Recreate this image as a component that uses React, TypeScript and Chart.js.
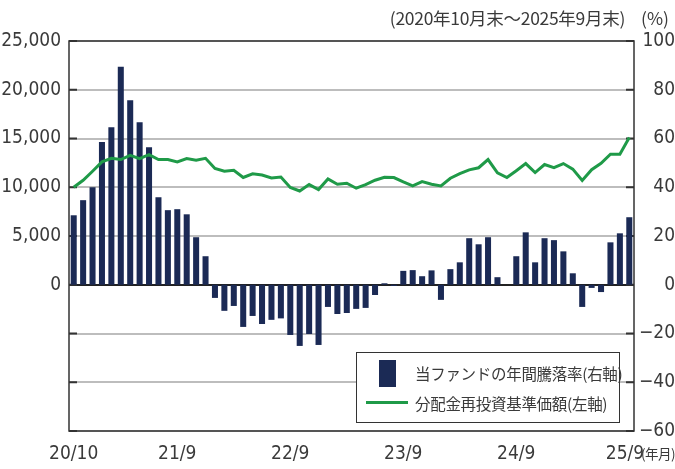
import React, { useEffect, useRef } from 'react';
import { Chart, registerables } from 'chart.js';

Chart.register(...registerables);

// Categories: month-ends from 2020/10 to 2025/9
const START_YEAR = 2020;
const START_MONTH = 10;
const MONTH_COUNT = 60;
const months: string[] = [];
for (let i = 0; i < MONTH_COUNT; i++) {
  const k = START_MONTH - 1 + i;
  const y = START_YEAR + Math.floor(k / 12);
  const m = (k % 12) + 1;
  months.push(`${String(y).slice(2)}/${m}`);
}
const shownXTicks = ['20/10', '21/9', '22/9', '23/9', '24/9', '25/9'];

// 当ファンドの年間騰落率 (%), right axis
const annualReturn = [
  28.5, 34.7, 40.0, 58.6, 64.6, 89.4, 75.7, 66.7, 56.4, 35.9, 30.6, 31.0,
  28.9, 19.5, 11.7, -5.4, -10.7, -8.7, -17.3, -12.8, -16.1, -14.4, -13.8, -20.6,
  -25.1, -20.2, -24.7, -9.1, -12.0, -11.6, -9.9, -9.5, -4.2, 0.6, -0.5, 5.7,
  6.0, 3.5, 5.9, -6.2, 6.4, 9.2, 19.1, 16.6, 19.5, 3.1, 0, 11.7,
  21.5, 9.2, 19.1, 18.3, 13.7, 4.7, -9.1, -1.3, -3.0, 17.4, 21.1, 27.7,
];

// 分配金再投資基準価額 (円), left axis
const navReinvested = [
  10000, 10720, 11640, 12600, 12970, 12840, 13280, 12940, 13350, 12840, 12840, 12600,
  12940, 12770, 12970, 11920, 11640, 11740, 11000, 11380, 11250, 10960, 11040, 9980,
  9620, 10275, 9760, 10850, 10300, 10410, 9900, 10275, 10720, 11025, 10995, 10545,
  10135, 10580, 10308, 10135, 10920, 11400, 11780, 12000, 12840, 11470, 11000, 11700,
  12430, 11505, 12330, 12020, 12430, 11860, 10700, 11800, 12460, 13385, 13385, 15100,
];

// Axis ranges / ticks
const leftMin = -15000;
const leftMax = 25000;
const leftStep = 5000;
const rightMin = -60;
const rightMax = 100;
const rightStep = 20;

const seriesBarLabel = '当ファンドの年間騰落率(右軸)';
const seriesLineLabel = '分配金再投資基準価額(左軸)';
const periodLabel = '(2020年10月末～2025年9月末)';

const BAR_COLOR = '#1b2a55';
const LINE_COLOR = '#1f9a48';
const TEXT_COLOR = '#3a3a3a';
const NUM_FONT = '"Liberation Sans Narrow", "DejaVu Sans Condensed", "Liberation Sans", sans-serif';
const JP_FONT = '"Noto Sans CJK JP", "Noto Sans", sans-serif';

const framePlugin = {
  id: 'frameAndInnerTicks',
  beforeDatasetsDraw(chart: any) {
    const { ctx, chartArea, scales } = chart;
    ctx.save();
    ctx.strokeStyle = '#333';
    ctx.lineWidth = 2;
    ctx.beginPath();
    scales.y.ticks.forEach((t: any) => {
      const y = scales.y.getPixelForValue(t.value);
      ctx.moveTo(chartArea.left, y);
      ctx.lineTo(chartArea.left + 8, y);
    });
    scales.y1.ticks.forEach((t: any) => {
      const y = scales.y1.getPixelForValue(t.value);
      ctx.moveTo(chartArea.right - 8, y);
      ctx.lineTo(chartArea.right, y);
    });
    ctx.stroke();
    ctx.restore();
  },
  afterDatasetsDraw(chart: any) {
    const { ctx, chartArea } = chart;
    ctx.save();
    ctx.strokeStyle = '#333';
    ctx.lineWidth = 1.5;
    ctx.strokeRect(chartArea.left, chartArea.top, chartArea.right - chartArea.left, chartArea.bottom - chartArea.top);
    ctx.restore();
  },
};

export default function App() {
  const canvasRef = useRef<HTMLCanvasElement | null>(null);

  useEffect(() => {
    if (!canvasRef.current) return;
    const chart = new Chart(canvasRef.current, {
      type: 'bar',
      data: {
        labels: months,
        datasets: [
          {
            type: 'line',
            label: seriesLineLabel,
            data: navReinvested,
            yAxisID: 'y',
            borderColor: LINE_COLOR,
            backgroundColor: LINE_COLOR,
            borderWidth: 3,
            pointRadius: 0,
            tension: 0,
            order: 0,
          } as any,
          {
            type: 'bar',
            label: seriesBarLabel,
            data: annualReturn,
            yAxisID: 'y1',
            backgroundColor: BAR_COLOR,
            categoryPercentage: 0.64,
            barPercentage: 1,
            order: 1,
          } as any,
        ],
      },
      options: {
        responsive: false,
        animation: false,
        layout: { padding: { top: 41, left: 0, right: 0, bottom: 0 } },
        plugins: {
          legend: { display: false },
          tooltip: { enabled: false },
        },
        scales: {
          x: {
            offset: true,
            grid: { display: false, drawTicks: false },
            border: { display: false },
            afterFit: (s: any) => { s.height = 38; },
            ticks: {
              autoSkip: false,
              maxRotation: 0,
              minRotation: 0,
              padding: 12,
              color: TEXT_COLOR,
              font: { family: NUM_FONT, size: 19 },
              callback: (_v: any, i: number) => {
                const lab = months[i];
                if (!shownXTicks.includes(lab)) return '';
                // last label leaves room for the trailing unit text
                return i === months.length - 1 ? lab + '\u2002' : lab;
              },
            },
          },
          y: {
            position: 'left',
            min: leftMin,
            max: leftMax,
            afterFit: (s: any) => { s.width = 69; },
            grid: {
              drawTicks: false,
              lineWidth: 2,
              color: (c: any) => (c.tick && c.tick.value === 0 ? '#222' : '#bdbdbd'),
            },
            border: { display: false },
            ticks: {
              stepSize: leftStep,
              padding: 8,
              color: TEXT_COLOR,
              font: { family: NUM_FONT, size: 19 },
              callback: (v: any) => (v < 0 ? '' : Number(v).toLocaleString('en-US')),
            },
          },
          y1: {
            position: 'right',
            min: rightMin,
            max: rightMax,
            afterFit: (s: any) => { s.width = 41; },
            grid: { display: false, drawTicks: false },
            border: { display: false },
            ticks: {
              stepSize: rightStep,
              padding: 8,
              crossAlign: 'far',
              color: TEXT_COLOR,
              font: { family: NUM_FONT, size: 19 },
              callback: (v: any) => (v < 0 ? '\u2212' + Math.abs(v) : String(v)),
            },
          },
        },
      },
      plugins: [framePlugin],
    });
    return () => chart.destroy();
  }, []);

  const jpText: React.CSSProperties = {
    position: 'absolute',
    fontFamily: JP_FONT,
    color: TEXT_COLOR,
    whiteSpace: 'nowrap',
    lineHeight: '20px',
  };

  return (
    <div style={{ position: 'fixed', left: 0, top: 0, width: 675, height: 469, background: '#fff', overflow: 'hidden' }}>
      <canvas ref={canvasRef} width={675} height={469} style={{ position: 'absolute', left: 0, top: 0 }} />
      <div style={{ ...jpText, right: 50, top: 8, fontSize: 17.5, textAlign: 'right', letterSpacing: '-0.3px' }}>{periodLabel}</div>
      <div style={{ ...jpText, left: 641, top: 8, fontSize: 17.5 }}>(%)</div>
      <div style={{ ...jpText, left: 641, top: 443, fontSize: 13.5, letterSpacing: '-0.5px' }}>(年月)</div>
      <div
        style={{
          position: 'absolute',
          left: 356,
          top: 352,
          width: 264,
          height: 71,
          boxSizing: 'border-box',
          border: '1.5px solid #333',
          background: '#fff',
        }}
      >
        <div style={{ position: 'absolute', left: 22, top: 7, width: 17, height: 27, background: BAR_COLOR }} />
        <div style={{ ...jpText, left: 58, top: 10, fontSize: 15.5, letterSpacing: '-0.3px' }}>{seriesBarLabel}</div>
        <div style={{ position: 'absolute', left: 9, top: 48, width: 42, height: 3, background: LINE_COLOR }} />
        <div style={{ ...jpText, left: 58, top: 40, fontSize: 15.5, letterSpacing: '-0.3px' }}>{seriesLineLabel}</div>
      </div>
    </div>
  );
}
